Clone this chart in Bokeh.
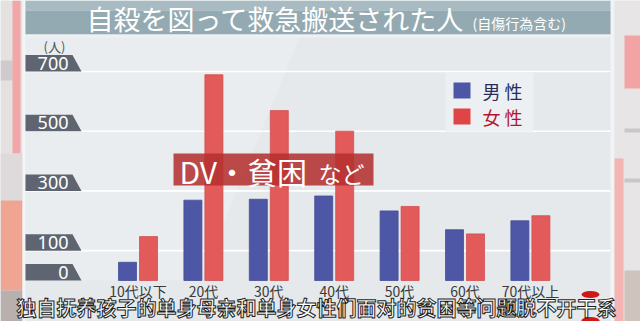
import numpy as np
from bokeh.plotting import figure
from bokeh.models import Range1d
from bokeh.embed import file_html
from bokeh.resources import INLINE
from bokeh.core.properties import value

# --- data -------------------------------------------------------------
categories = ["10代以下", "20代", "30代", "40代", "50代", "60代", "70代以上"]
male = [61, 269, 272, 283, 233, 170, 200]
female = [147, 689, 569, 500, 248, 156, 217]
y_ticks = [0, 100, 300, 500, 700]
grid_ticks = [100, 300, 500, 700]
series_names = ["男 性", "女 性"]
title_main = "自殺を図って救急搬送された人"
title_note = "(自傷行為含む)"
unit_label = "(人)"
banner_main = "DV・貧困"
banner_tail = "など"
caption = "独自抚养孩子的单身母亲和单身女性们面对的贫困等问题脱不开干系"

# --- canvas geometry ----------------------------------------------------
W, H = 640, 321
GX0, GDX = 137.5, 65.4      # pixel centre of first group, pixels per group
BASE, PPU = 280.0, 0.2986   # pixel row of value 0, pixels per unit


def dx(px):
    return (px - GX0) / GDX


def dy(py):
    return (BASE - py) / PPU


p = figure(width=W, height=H, x_range=Range1d(dx(0), dx(W)),
           y_range=Range1d(dy(H), dy(0)), x_axis_type=None, y_axis_type=None,
           output_backend="svg", toolbar_location=None, min_border=0)
p.grid.visible = False
p.outline_line_color = None
p.background_fill_color = "#E5E9EC"
p.border_fill_color = "#E5E9EC"


def box(x0, x1, y0, y1, color, alpha=1.0):
    p.quad(left=dx(x0), right=dx(x1), top=dy(y0), bottom=dy(y1),
           fill_color=color, fill_alpha=alpha, line_color=None)


# studio backdrop at the sides
box(0, 22, 0, H, "#E6E1E1")
box(0, 12, 60, 80, "#CFCACB")
box(12, 20, 0, 153, "#F2A6A7")
box(0, 22, 153, 200, "#DEDADB")
box(0, 22, 200, 290, "#EFA592")
box(0, 22, 290, H, "#B9B0AE")
box(22, 25, 0, H, "#F3F5F6")
box(610, 614, 0, H, "#F1F3F4")
box(614, 640, 0, H, "#E7E5E6")
box(624, 640, 35, 88, "#F2A3A3")
box(624, 640, 128, 132, "#CCC7C7")
box(624, 640, 178, 182, "#CCC7C7")
box(624, 640, 270, H, "#CFC3BD")
box(614, 623, 158, H, "#F5B4B4")

# lighter sheen on the panel
p.patch(x=[dx(25), dx(300), dx(200), dx(25)],
        y=[dy(34), dy(34), dy(280), dy(280)],
        fill_color="#EDF0F2", fill_alpha=0.6, line_color=None)

# title band
box(25, 610, 0, 10, "#A9BBC2")
box(25, 610, 10, 34, "#94AAB2")
box(25, 610, 34, 37, "#EEF1F3")

# grid lines
p.segment(x0=[dx(25)] * len(grid_ticks), x1=[dx(610)] * len(grid_ticks),
          y0=grid_ticks, y1=grid_ticks, line_color="white", line_width=1.6)

# y tick tags
tag_h = 16.5 / PPU
xs, ys = [], []
for t in y_ticks:
    xs.append([dx(25), dx(81), dx(72), dx(25)])
    ys.append([t, t, t + tag_h, t + tag_h])
p.patches(xs=xs, ys=ys, fill_color="#5E6571", line_color=None)
p.text(x=[dx(68)] * len(y_ticks), y=[t + tag_h / 2 for t in y_ticks],
       text=[str(t) for t in y_ticks], text_align="right",
       text_baseline="middle", text_color="white",
       text_font=value("Noto Sans"), text_font_size="18px")
p.text(x=[dx(54)], y=[dy(46)], text=[unit_label], text_align="center",
       text_baseline="middle", text_color="#4F545B",
       text_font=value("Noto Sans CJK JP"), text_font_size="13px")

# bars
idx = np.arange(len(categories))
off = 10.5 / GDX
bw = 18 / GDX
p.vbar(x=idx - off, top=male, bottom=0, width=bw,
       fill_color="#4D57A5", line_color="#444E97", line_width=0.8)
p.vbar(x=idx + off, top=female, bottom=0, width=bw,
       fill_color="#E25A5A", line_color="#D34F4F", line_width=0.8)

# category labels
p.text(x=idx, y=[dy(290)] * len(categories), text=categories,
       text_align="center", text_baseline="middle", text_color="#3A3A3A",
       text_font=value("Noto Sans CJK JP"), text_font_size="14px")

# legend
box(445, 533, 72, 132, "#EEF1F3", 0.85)
box(453, 470, 82, 98, "#4D57A5")
box(453, 470, 108, 124, "#E04545")
p.text(x=[dx(482)], y=[dy(90)], text=[series_names[0]], text_baseline="middle",
       text_color="#272C5C", text_font=value("Noto Sans CJK JP"),
       text_font_size="18px")
p.text(x=[dx(482)], y=[dy(116)], text=[series_names[1]], text_baseline="middle",
       text_color="#B3162C", text_font=value("Noto Sans CJK JP"),
       text_font_size="18px")

# callout banner
box(173, 373, 153, 185, "#B3302F", 0.87)
p.text(x=[dx(179)], y=[dy(170)], text=[banner_main], text_baseline="middle",
       text_color="white", text_font=value("Noto Sans CJK JP"),
       text_font_size="30px")
p.text(x=[dx(318)], y=[dy(172)], text=[banner_tail], text_baseline="middle",
       text_color="white", text_font=value("Noto Sans CJK JP"),
       text_font_size="23px")

# title
p.text(x=[dx(86)], y=[dy(18)], text=[title_main], text_baseline="middle",
       text_color="white", text_font=value("Noto Sans CJK JP"),
       text_font_size="27px")
p.text(x=[dx(472)], y=[dy(22)], text=[title_note], text_baseline="middle",
       text_color="white", text_font=value("Noto Sans CJK JP"),
       text_font_size="14px")

# broadcast caption
p.ellipse(x=[dx(590), dx(590)], y=[dy(294), dy(320)], width=18 / GDX,
          height=7 / PPU, fill_color="#D01818", line_color=None)
p.text(x=[dx(316)], y=[dy(307)], text=[caption], text_align="center",
       text_baseline="middle", text_color="white",
       text_outline_color="#1E1E1E",
       text_font=value("Noto Sans CJK SC"), text_font_style="bold",
       text_font_size="20px")

open("out.html", "w").write(file_html(p, INLINE))
